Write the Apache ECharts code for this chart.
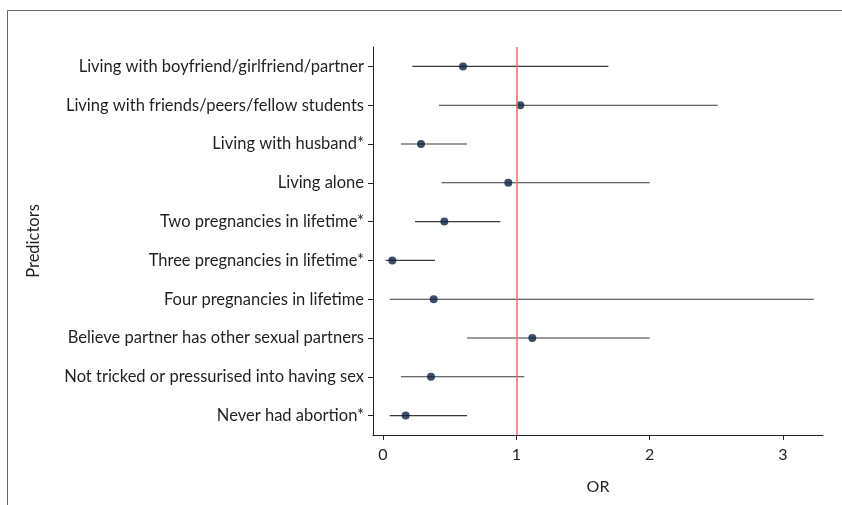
<!DOCTYPE html>
<html><head><meta charset="utf-8">
<script src="https://cdn.jsdelivr.net/npm/echarts@6/dist/echarts.min.js"></script>
<style>html,body{margin:0;padding:0;background:#fff}#c{width:842px;height:505px}</style>
</head><body><div id="c"></div>
<script>
const predictors = [
  'Living with boyfriend/girlfriend/partner',
  'Living with friends/peers/fellow students',
  'Living with husband*',
  'Living alone',
  'Two pregnancies in lifetime*',
  'Three pregnancies in lifetime*',
  'Four pregnancies in lifetime',
  'Believe partner has other sexual partners',
  'Not tricked or pressurised into having sex',
  'Never had abortion*'
];
const orValues = [0.60, 1.03, 0.285, 0.94, 0.46, 0.07, 0.38, 1.12, 0.36, 0.17];
const ciLower  = [0.22, 0.42, 0.135, 0.44, 0.24, 0.02, 0.05, 0.63, 0.135, 0.05];
const ciUpper  = [1.69, 2.51, 0.63, 2.00, 0.88, 0.39, 3.23, 2.00, 1.06, 0.63];
const xTicks = [0, 1, 2, 3];
const refLine = 1;

const FONT = 'Lato';
const TXT = '#231f20';
const chart = echarts.init(document.getElementById('c'));
chart.setOption({
  animation: false,
  graphic: [{
    type: 'rect', shape: {x: 7.5, y: 10.5, width: 1000, height: 1000},
    style: {fill: 'none', stroke: '#666', lineWidth: 1}, silent: true
  }],
  grid: {left: 373, right: 19, top: 47, bottom: 70},
  xAxis: {
    type: 'value', min: -0.075, max: 3.3,
    name: 'OR', nameLocation: 'middle', nameGap: 44,
    nameTextStyle: {fontFamily: FONT, fontSize: 16, color: TXT},
    axisLine: {show: true, onZero: false, lineStyle: {color: '#222', width: 1}},
    axisTick: {show: true, length: 5, lineStyle: {color: '#222'}, customValues: xTicks},
    axisLabel: {fontFamily: FONT, fontSize: 16, color: TXT, margin: 12, customValues: xTicks},
    splitLine: {show: false}
  },
  yAxis: {
    type: 'category', data: predictors, inverse: true, boundaryGap: true,
    name: 'Predictors', nameLocation: 'middle', nameGap: 331,
    nameTextStyle: {fontFamily: FONT, fontSize: 16.5, color: TXT},
    axisLine: {show: true, onZero: false, lineStyle: {color: '#222', width: 1}},
    axisTick: {show: true, alignWithLabel: true, length: 5, lineStyle: {color: '#222'}},
    axisLabel: {fontFamily: FONT, fontSize: 16.5, color: TXT, margin: 9},
    splitLine: {show: false}
  },
  series: [{
    type: 'custom',
    data: predictors.map((p, i) => [i, ciLower[i], ciUpper[i]]),
    encode: {x: [1, 2], y: 0},
    renderItem: function (params, api) {
      const i = api.value(0);
      const a = api.coord([api.value(1), i]);
      const b = api.coord([api.value(2), i]);
      return {type: 'line', shape: {x1: a[0], y1: a[1], x2: b[0], y2: b[1]},
        style: {stroke: '#3a3a3a', lineWidth: 1.1}};
    },
    z: 2
  }, {
    type: 'scatter',
    data: orValues.map((v, i) => [v, i]),
    symbolSize: 8,
    itemStyle: {color: '#0a2342'},
    z: 4,
    markLine: {
      silent: true, symbol: 'none', label: {show: false},
      lineStyle: {color: '#f06a6a', width: 1.5, type: 'solid'},
      data: [{xAxis: refLine}]
    }
  }]
});
</script></body></html>
